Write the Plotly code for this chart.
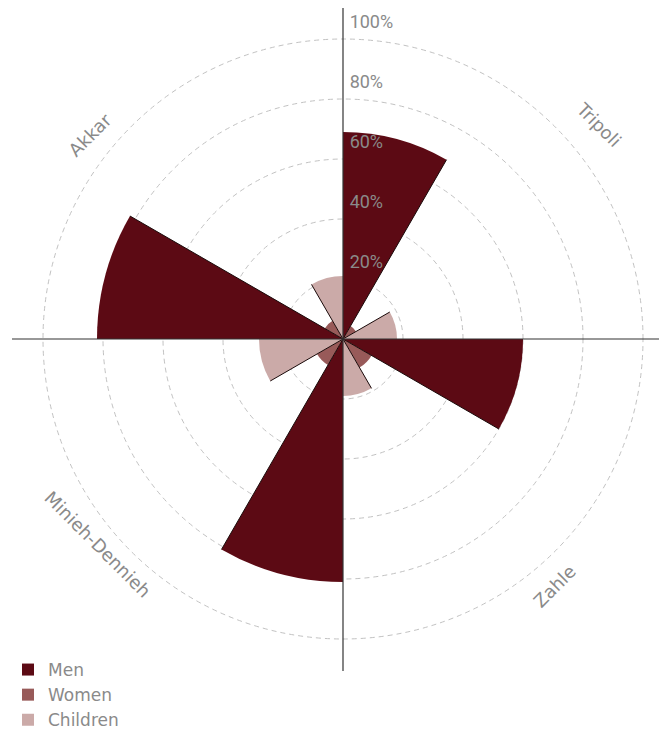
import math
import plotly.graph_objects as go

# ---- data ----
regions = ["Tripoli", "Zahle", "Minieh-Dennieh", "Akkar"]
men = [0.69, 0.60, 0.81, 0.82]
women = [0.05, 0.11, 0.10, 0.07]
children = [0.18, 0.19, 0.28, 0.21]
radial_ticks = [0.2, 0.4, 0.6, 0.8, 1.0]
radial_tick_labels = ["20%", "40%", "60%", "80%", "100%"]

# ---- geometry / style ----
W, H = 667, 731
OFF = 8                    # page body margin
CX, CY = 343, 339          # on-screen pixel centre of polar
RPX = 315                  # on-screen pixel radius of RMAX
RMAX = 1.05
C_MEN, C_WOMEN, C_CHILD = "#5c0a14", "#985a59", "#cbaaa8"
TXT = "#8a8a8a"
FONT = "DejaVu Sans"
TICKFONT = "Roboto"


def px2paper(x, y):
    return (x - OFF) / W, (H - (y - OFF)) / H


sector = 360 / len(regions)
bw = sector / 3
base = [i * sector for i in range(len(regions))]
th_men = [b + bw / 2 for b in base]
th_women = [b + 1.5 * bw for b in base]
th_child = [b + 2.5 * bw for b in base]

fig = go.Figure()
fig.add_trace(go.Barpolar(r=men, theta=th_men, width=[bw] * 4, name="Men",
                          marker=dict(color=C_MEN, line=dict(width=0))))
fig.add_trace(go.Barpolar(r=women, theta=th_women, width=[bw] * 4, name="Women",
                          marker=dict(color=C_WOMEN, line=dict(width=0))))
fig.add_trace(go.Barpolar(r=children, theta=th_child, width=[bw] * 4, name="Children",
                          marker=dict(color=C_CHILD, line=dict(width=0))))

# thin dark radial edges (men end edge, children start edge)
for vals, ths, sgn in [(men, th_men, 1), (children, th_child, -1)]:
    for v, t in zip(vals, ths):
        e = t + sgn * bw / 2
        fig.add_trace(go.Scatterpolar(r=[0, v], theta=[e, e], mode="lines",
                                      line=dict(color="#1a0a0a", width=1),
                                      showlegend=False, hoverinfo="skip"))

# radial tick labels
fig.add_trace(go.Scatterpolar(r=radial_ticks, theta=[0] * len(radial_ticks),
                              mode="markers+text", text=radial_tick_labels,
                              textposition="top right",
                              marker=dict(size=9, opacity=0),
                              textfont=dict(family=TICKFONT, size=18, color=TXT),
                              showlegend=False, hoverinfo="skip"))

dx0, dy0 = px2paper(CX - RPX, CY + RPX)
dx1, dy1 = px2paper(CX + RPX, CY - RPX)
lx, ly = px2paper(OFF, 652)

fig.update_layout(
    width=W, height=H,
    margin=dict(l=0, r=0, t=0, b=0, autoexpand=False),
    paper_bgcolor="white", plot_bgcolor="white",
    font=dict(family=FONT, color=TXT),
    polar=dict(
        bgcolor="white",
        domain=dict(x=[dx0, dx1], y=[dy0, dy1]),
        radialaxis=dict(range=[0, RMAX], tickvals=radial_ticks, showticklabels=False,
                        ticks="", showline=False, gridcolor="#c2c2c2",
                        griddash="5px,4px", gridwidth=1, angle=90),
        angularaxis=dict(rotation=90, direction="clockwise", showgrid=False,
                         showline=False, showticklabels=False, ticks=""),
        bargap=0,
    ),
    legend=dict(x=lx, y=ly, xanchor="left", yanchor="top",
                font=dict(family=FONT, size=17, color=TXT),
                tracegroupgap=0, itemwidth=30),
    showlegend=True,
)

# axis cross lines
hx0, hy = px2paper(12, CY)
hx1, _ = px2paper(W + 20, CY)
vx, vy0 = px2paper(CX, 671)
_, vy1 = px2paper(CX, -10)
fig.add_shape(type="line", xref="paper", yref="paper", x0=hx0, x1=hx1, y0=hy, y1=hy,
              line=dict(color="#333333", width=1.2), layer="above")
fig.add_shape(type="line", xref="paper", yref="paper", x0=vx, x1=vx, y0=vy0, y1=vy1,
              line=dict(color="#333333", width=1.2), layer="above")

# category labels (rotated), placed by polar angle / on-screen pixel radius
label_angles = [50, 139.5, 230, 309]
label_radius_px = [334, 325, 320, 325]
label_rot = [45, -45, 45, -45]
for name, a, rp, rot in zip(regions, label_angles, label_radius_px, label_rot):
    ang = math.radians(a)
    x, y = px2paper(CX + rp * math.sin(ang), CY - rp * math.cos(ang))
    fig.add_annotation(x=x, y=y, xref="paper", yref="paper",
                       text=name, showarrow=False, textangle=rot,
                       font=dict(family=FONT, size=18, color=TXT),
                       xanchor="center", yanchor="middle")

fig.write_html("out.html")
